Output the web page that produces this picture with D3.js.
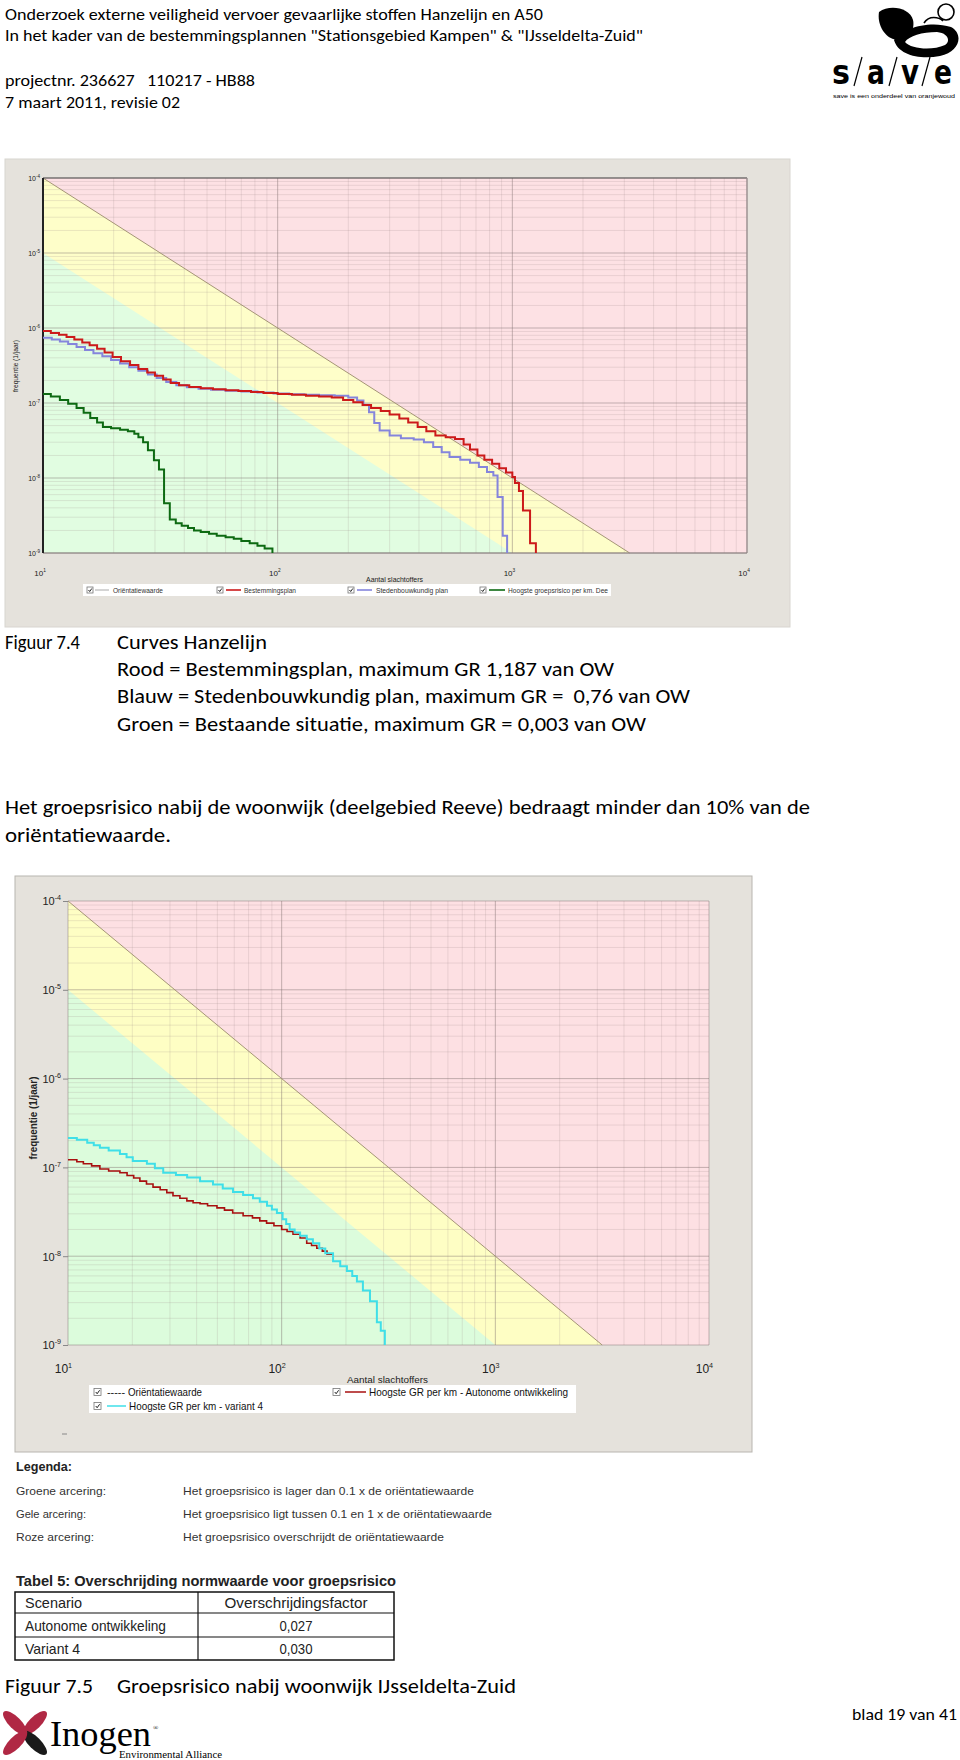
<!DOCTYPE html>
<html><head><meta charset="utf-8">
<script src="https://cdn.jsdelivr.net/npm/d3@7"></script>
<style>body{margin:0;background:#fff;} svg{display:block;} text{white-space:pre;}</style>
</head><body><svg id="page" width="960" height="1760"></svg>
<script>
// ---------------- DATA ----------------
const xDecades = [10, 100, 1000, 10000];
const xTickExp = ["1", "2", "3", "4"];
const yDecades = [1e-4, 1e-5, 1e-6, 1e-7, 1e-8, 1e-9];
const yTickExp = ["-4", "-5", "-6", "-7", "-8", "-9"];
const owLine = [[10, 1e-4], [3162.3, 1e-9]];     // oriëntatiewaarde
const owTenth = [[10, 1e-5], [1000, 1e-9]];      // 0.1 x oriëntatiewaarde

// Figuur 7.4 – Bestemmingsplan (rood)
const c1RedN = [10,10.8,11.7,12.6,13.6,14.7,15.8,17,18.3,19.8,21.5,23.5,25.5,27.8,30,32.5,35,38,42,47,53,60,68,77,87,100,115,132,150,170,190,210,230,250,275,300,330,360,395,430,470,520,570,620,660,710,760,820,880,940,1000,1026,1067,1110,1190,1260];
const c1RedF = [9.1e-7,8.6e-7,8.1e-7,7.6e-7,7.0e-7,6.4e-7,5.9e-7,5.3e-7,4.7e-7,4.1e-7,3.6e-7,3.2e-7,2.85e-7,2.55e-7,2.3e-7,2.05e-7,1.85e-7,1.72e-7,1.64e-7,1.57e-7,1.52e-7,1.48e-7,1.44e-7,1.4e-7,1.36e-7,1.32e-7,1.29e-7,1.25e-7,1.22e-7,1.18e-7,1.1e-7,1.02e-7,9.4e-8,8.6e-8,7.8e-8,7.0e-8,6.2e-8,5.5e-8,4.8e-8,4.2e-8,3.7e-8,3.5e-8,3.3e-8,2.8e-8,2.4e-8,2.0e-8,1.75e-8,1.55e-8,1.35e-8,1.18e-8,1.03e-8,8.6e-9,6.7e-9,3.7e-9,1.35e-9,1e-9];
// Figuur 7.4 – Stedenbouwkundig plan (blauw)
const c1BlueN = [10,10.9,11.8,12.8,13.9,15.1,16.4,17.9,19.5,21.3,23.3,25.5,28,30.5,33.5,37,41,46,52,60,70,82,96,112,130,150,175,200,218,232,245,258,272,300,335,380,420,460,500,540,600,660,720,780,830,865,910,950];
const c1BlueF = [7.4e-7,7.0e-7,6.6e-7,6.1e-7,5.6e-7,5.1e-7,4.6e-7,4.2e-7,3.75e-7,3.35e-7,3.0e-7,2.7e-7,2.4e-7,2.15e-7,1.9e-7,1.72e-7,1.62e-7,1.55e-7,1.5e-7,1.46e-7,1.42e-7,1.38e-7,1.34e-7,1.31e-7,1.29e-7,1.27e-7,1.25e-7,1.18e-7,1.08e-7,9.5e-8,7.5e-8,5.4e-8,4.3e-8,3.7e-8,3.4e-8,3.25e-8,3.0e-8,2.6e-8,2.2e-8,1.9e-8,1.75e-8,1.6e-8,1.4e-8,1.2e-8,1.08e-8,5.6e-9,1.7e-9,1e-9];
// Figuur 7.4 – Hoogste groepsrisico per km (groen)
const c1GreenN = [10,10.8,11.8,12.8,13.9,14.9,15.9,17,18,19.5,21.3,23,24.5,25.5,26.7,28,29.7,31.2,32.8,34.7,36.8,39,41.5,44,47,51,55,60,65,70,76,82,88,95];
const c1GreenF = [1.32e-7,1.22e-7,1.1e-7,9.8e-8,8.6e-8,7.4e-8,6.3e-8,5.5e-8,4.8e-8,4.6e-8,4.4e-8,4.2e-8,3.9e-8,3.5e-8,3.0e-8,2.35e-8,1.73e-8,1.3e-8,4.6e-9,2.8e-9,2.5e-9,2.3e-9,2.15e-9,2.0e-9,1.9e-9,1.8e-9,1.7e-9,1.62e-9,1.55e-9,1.45e-9,1.35e-9,1.25e-9,1.15e-9,1e-9];

// Figuur 7.5 – Autonome ontwikkeling (rood)
const c2RedN = [10,11,11.8,12.9,14.1,15.5,17.5,18.9,20.3,21.7,23.3,25,27,29,31,33.4,36,38.5,41.5,45,49.8,54,59,66,73,79,85,92,100,106,113,122,131,138,146,155,163,174];
const c2RedF = [1.22e-7,1.16e-7,1.1e-7,1.04e-7,9.6e-8,9.1e-8,8.7e-8,8.1e-8,7.6e-8,7.0e-8,6.5e-8,6.0e-8,5.6e-8,5.2e-8,4.8e-8,4.5e-8,4.2e-8,4.0e-8,3.9e-8,3.7e-8,3.5e-8,3.3e-8,3.06e-8,2.85e-8,2.7e-8,2.5e-8,2.36e-8,2.2e-8,2.0e-8,1.9e-8,1.77e-8,1.6e-8,1.4e-8,1.32e-8,1.23e-8,1.14e-8,1.05e-8,1.05e-8];
// Figuur 7.5 – variant 4 (cyaan)
const c2CyanN = [10,11,12.3,13.2,14.1,15.5,17.5,18.8,20.1,23.4,25.5,27.9,32,36.1,41.5,47.7,53,59.2,66,73.4,79,85.4,90,95,101,105,109,115,122,131,140,150,160,174,188,202,214,225,240,259,279,291,304];
const c2CyanF = [2.15e-7,2.05e-7,1.9e-7,1.78e-7,1.66e-7,1.55e-7,1.42e-7,1.3e-7,1.18e-7,1.1e-7,9.8e-8,8.7e-8,8.2e-8,7.7e-8,7.0e-8,6.4e-8,5.8e-8,5.3e-8,4.9e-8,4.5e-8,4.1e-8,3.7e-8,3.35e-8,3.06e-8,2.6e-8,2.3e-8,2.0e-8,1.85e-8,1.7e-8,1.55e-8,1.4e-8,1.22e-8,1.08e-8,8.8e-9,7.7e-9,6.8e-9,6.0e-9,5.2e-9,4.1e-9,3.1e-9,1.8e-9,1.45e-9,1e-9];

const legend1Labels = ["Oriëntatiewaarde", "Bestemmingsplan", "Stedenbouwkundig plan", "Hoogste groepsrisico per km. Dee"];
const legend2Labels = ["Oriëntatiewaarde", "Hoogste GR per km - Autonome ontwikkeling", "Hoogste GR per km - variant 4"];
const headerLines = ["Onderzoek externe veiligheid vervoer gevaarlijke stoffen Hanzelijn en A50",
  "In het kader van de bestemmingsplannen \"Stationsgebied Kampen\" & \"IJsseldelta-Zuid\"",
  "projectnr. 236627   110217 - HB88", "7 maart 2011, revisie 02"];
const caption74 = ["Curves Hanzelijn", "Rood = Bestemmingsplan, maximum GR 1,187 van OW",
  "Blauw = Stedenbouwkundig plan, maximum GR =  0,76 van OW", "Groen = Bestaande situatie, maximum GR = 0,003 van OW"];
const paragraph = ["Het groepsrisico nabij de woonwijk (deelgebied Reeve) bedraagt minder dan 10% van de", "oriëntatiewaarde."];
const legendaRows = [["Groene arcering:", "Het groepsrisico is lager dan 0.1 x de oriëntatiewaarde"],
  ["Gele arcering:", "Het groepsrisico ligt tussen 0.1 en 1 x de oriëntatiewaarde"],
  ["Roze arcering:", "Het groepsrisico overschrijdt de oriëntatiewaarde"]];
const tableHeader = ["Scenario", "Overschrijdingsfactor"];
const tableRows = [["Autonome ontwikkeling", "0,027"], ["Variant 4", "0,030"]];

// ---------------- DRAWING ----------------
const svg = d3.select("#page");
const CAL = "Carlito, Lato, 'Open Sans', sans-serif";
const ARI = "'Liberation Sans', Arial, sans-serif";

function txt(parent, x, y, s, o = {}) {
  const t = parent.append("text").attr("x", x).attr("y", y)
    .attr("font-family", o.ff || CAL).attr("font-size", o.fs || 16)
    .attr("fill", o.fill || "#000").attr("text-anchor", o.anchor || "start")
    .attr("font-weight", o.fw || "normal").attr("xml:space", "preserve").text(s);
  if (o.len) t.attr("textLength", o.len).attr("lengthAdjust", "spacingAndGlyphs");
  if (o.rot) t.attr("transform", `rotate(${o.rot},${x},${y})`);
  return t;
}

svg.append("rect").attr("width", 960).attr("height", 1760).attr("fill", "#fff");

// header
txt(svg, 5, 20, headerLines[0], {fs: 16, len: 538});
txt(svg, 5, 41, headerLines[1], {fs: 16, len: 638});
txt(svg, 5, 86, headerLines[2], {fs: 16, len: 250});
txt(svg, 5, 108, headerLines[3], {fs: 16, len: 175});

// s/a/v/e logo
(function () {
  const g = svg.append("g");
  g.append("circle").attr("cx", 946).attr("cy", 12).attr("r", 8).attr("fill", "none").attr("stroke", "#000").attr("stroke-width", 1.6);
  g.append("path").attr("d", "M879,12 C890,4 910,8 913,20 C916,33 904,42 893,39 C884,36 877,24 879,12 Z").attr("fill", "#000");
  g.append("path").attr("d", "M894,40 C902,28 930,20 951,27 C964,34 960,52 940,56 C920,60 898,55 894,40 Z M905,42 C911,49 932,51 945,45 C951,41 948,33 937,32 C922,32 909,36 905,42 Z").attr("fill", "#000").attr("fill-rule", "evenodd");
  g.append("path").attr("d", "M924,23 C929,15 939,17 943,21").attr("fill", "none").attr("stroke", "#000").attr("stroke-width", 1.6);
  const letters = [["s", 841], ["a", 876], ["v", 910], ["e", 943]];
  letters.forEach(l => txt(g, l[1] - 9, 84, l[0], {ff: "'DejaVu Sans', sans-serif", fs: 34, fw: "bold", len: 18}));
  [858, 893, 926].forEach(x => g.append("line").attr("x1", x - 4).attr("y1", 86).attr("x2", x + 4).attr("y2", 57).attr("stroke", "#000").attr("stroke-width", 1.2));
  txt(g, 833, 98, "save is een onderdeel van oranjewoud", {ff: ARI, fs: 6, len: 122});
})();

function checkbox(g, x, y, s) {
  g.append("rect").attr("x", x).attr("y", y).attr("width", s).attr("height", s).attr("fill", "#fff").attr("stroke", "#777").attr("stroke-width", 0.8);
  g.append("path").attr("d", `M${x + s * 0.25},${y + s * 0.5} L${x + s * 0.45},${y + s * 0.75} L${x + s * 0.8},${y + s * 0.25}`)
    .attr("fill", "none").attr("stroke", "#222").attr("stroke-width", 1);
}

function drawChart(cfg) {
  const g = svg.append("g");
  g.append("rect").attr("x", cfg.px0).attr("y", cfg.py0).attr("width", cfg.px1 - cfg.px0).attr("height", cfg.py1 - cfg.py0)
    .attr("fill", "#e5e2dc").attr("stroke", cfg.panelStroke).attr("stroke-width", 1);
  const x = d3.scaleLog().domain([10, 10000]).range([cfg.x0, cfg.x1]);
  const y = d3.scaleLog().domain([1e-9, 1e-4]).range([cfg.y1, cfg.y0]);
  const pt = p => [x(p[0]), y(p[1])].join(",");
  g.append("rect").attr("x", cfg.x0).attr("y", cfg.y0).attr("width", cfg.x1 - cfg.x0).attr("height", cfg.y1 - cfg.y0).attr("fill", cfg.pink);
  g.append("polygon").attr("points", [owLine[0], owLine[1], [10, 1e-9]].map(pt).join(" ")).attr("fill", cfg.yellow);
  g.append("polygon").attr("points", [owTenth[0], owTenth[1], [10, 1e-9]].map(pt).join(" ")).attr("fill", cfg.green);
  const isMajor = v => Math.abs(Math.log10(v) - Math.round(Math.log10(v))) < 1e-6;
  // grid
  x.ticks().forEach(v => {
    const mj = isMajor(v);
    g.append("line").attr("x1", x(v)).attr("x2", x(v)).attr("y1", cfg.y0).attr("y2", cfg.y1)
      .attr("stroke", mj ? "#7a6a6a" : "#9a8888").attr("stroke-opacity", mj ? 0.45 : 0.2).attr("stroke-width", 1);
  });
  y.ticks().forEach(v => {
    const mj = isMajor(v);
    g.append("line").attr("x1", cfg.x0).attr("x2", cfg.x1).attr("y1", y(v)).attr("y2", y(v))
      .attr("stroke", mj ? "#7a6a6a" : "#9a8888").attr("stroke-opacity", mj ? 0.45 : 0.2).attr("stroke-width", 1);
  });
  // orientation line
  g.append("path").attr("d", d3.line().x(d => x(d[0])).y(d => y(d[1]))(owLine)).attr("stroke", "#a59577").attr("stroke-width", 1).attr("fill", "none");
  // borders
  if (cfg.borders) {
    g.append("line").attr("x1", cfg.x0).attr("x2", cfg.x1).attr("y1", cfg.y0).attr("y2", cfg.y0).attr("stroke", "#555").attr("stroke-width", 1.2);
    g.append("line").attr("x1", cfg.x1).attr("x2", cfg.x1).attr("y1", cfg.y0).attr("y2", cfg.y1).attr("stroke", "#9a9090").attr("stroke-width", 1.2);
    g.append("line").attr("x1", cfg.x0).attr("x2", cfg.x1).attr("y1", cfg.y1).attr("y2", cfg.y1).attr("stroke", "#8a8080").attr("stroke-width", 1.2);
    g.append("line").attr("x1", cfg.x0).attr("x2", cfg.x0).attr("y1", cfg.y0).attr("y2", cfg.y1).attr("stroke", "#222").attr("stroke-width", 2);
  }
  // curves
  const line = d3.line().x(d => x(d[0])).y(d => y(d[1])).curve(d3.curveStepAfter);
  cfg.series.forEach(s => {
    const data = s.n.map((n, i) => [n, s.f[i]]);
    g.append("path").attr("d", line(data)).attr("fill", "none").attr("stroke", s.color).attr("stroke-width", s.w);
  });
  // y axis labels
  const ya = g.append("g").attr("transform", `translate(${cfg.x0},0)`)
    .call(d3.axisLeft(y).tickValues(yDecades).tickSize(cfg.yTick).tickPadding(cfg.yPad).tickFormat(() => ""));
  ya.select(".domain").remove();
  ya.selectAll(".tick line").attr("stroke", "#888");
  ya.selectAll(".tick text").each(function (d, i) {
    const t = d3.select(this).attr("font-family", ARI).attr("font-size", cfg.yFs).attr("fill", "#222").attr("dy", "0.35em");
    t.append("tspan").text("10");
    t.append("tspan").attr("dy", -cfg.yFs * 0.45).attr("font-size", cfg.yFs * 0.65).text(yTickExp[i]);
  });
  // x axis labels
  const xa = g.append("g").attr("transform", `translate(0,${cfg.xLabY})`)
    .call(d3.axisBottom(x).tickValues(xDecades).tickSize(0).tickFormat(() => ""));
  xa.select(".domain").remove();
  xa.selectAll(".tick text").each(function (d, i) {
    const t = d3.select(this).attr("font-family", ARI).attr("font-size", cfg.xFs).attr("fill", "#222")
      .attr("text-anchor", "end").attr("x", cfg.xFs * 0.3).attr("y", 0).attr("dy", "0.35em");
    t.append("tspan").text("10");
    t.append("tspan").attr("dy", -cfg.xFs * 0.45).attr("font-size", cfg.xFs * 0.6).text(xTickExp[i]);
  });
  // titles
  txt(g, cfg.xt[0], cfg.xt[1], "Aantal slachtoffers", {ff: ARI, fs: cfg.xt[2], len: cfg.xt[3], fill: "#222"});
  txt(g, cfg.yt[0], cfg.yt[1], "frequentie (1/jaar)", {ff: ARI, fs: cfg.yt[2], len: cfg.yt[3], rot: -90, anchor: "middle", fill: "#222", fw: cfg.yt[4] || "normal"});
  return g;
}

// ---- Figuur 7.4 ----
const g1 = drawChart({
  px0: 5, py0: 159, px1: 790, py1: 627, panelStroke: "#d8d5d0",
  x0: 43, x1: 747, y0: 178, y1: 553,
  pink: "#fde1e4", yellow: "#fefec9", green: "#e1fde1", borders: true,
  yTick: 0, yPad: 3, yFs: 7, xLabY: 573, xFs: 8,
  xt: [366, 582, 7, 57], yt: [18, 366, 7, 52],
  series: [
    {n: c1GreenN, f: c1GreenF, color: "#0d6a12", w: 2},
    {n: c1BlueN, f: c1BlueF, color: "#8585dc", w: 2},
    {n: c1RedN, f: c1RedF, color: "#cc1a1a", w: 2}
  ]
});
// legend 7.4
(function () {
  const g = svg.append("g");
  g.append("rect").attr("x", 83).attr("y", 584).attr("width", 528).attr("height", 12).attr("fill", "#fff");
  const items = [[87, 95, 109, 113, "#aaa", 50], [217, 226, 241, 244, "#cc1a1a", 52], [348, 357, 372, 376, "#8585dc", 72], [480, 489, 505, 508, "#0d6a12", 100]];
  items.forEach((it, i) => {
    checkbox(g, it[0], 587, 6);
    g.append("line").attr("x1", it[1]).attr("x2", it[2]).attr("y1", 590).attr("y2", 590).attr("stroke", it[4]).attr("stroke-width", i === 0 ? 1 : 1.6);
    txt(g, it[3], 592.5, legend1Labels[i], {ff: ARI, fs: 7, len: it[5], fill: "#333"});
  });
})();

// captions 7.4
txt(svg, 5, 649, "Figuur 7.4", {fs: 20, len: 75});
txt(svg, 117, 649, caption74[0], {fs: 20, len: 150});
txt(svg, 117, 676, caption74[1], {fs: 20, len: 497});
txt(svg, 117, 703, caption74[2], {fs: 20, len: 573});
txt(svg, 117, 731, caption74[3], {fs: 20, len: 529});
txt(svg, 5, 814, paragraph[0], {fs: 20, len: 805});
txt(svg, 5, 842, paragraph[1], {fs: 20, len: 166});

// ---- Figuur 7.5 ----
const g2 = drawChart({
  px0: 15, py0: 876, px1: 752, py1: 1452, panelStroke: "#b8b5b0",
  x0: 68, x1: 709, y0: 901, y1: 1345,
  pink: "#fde0e3", yellow: "#fefec4", green: "#dcfcdc", borders: false,
  yTick: 5, yPad: 2, yFs: 11, xLabY: 1369, xFs: 12,
  xt: [347, 1383, 9.5, 81], yt: [37, 1118, 11, 83, "bold"],
  series: [
    {n: c2RedN, f: c2RedF, color: "#a81010", w: 1.6},
    {n: c2CyanN, f: c2CyanF, color: "#3fdfe8", w: 2}
  ]
});
// legend 7.5
(function () {
  const g = svg.append("g");
  g.append("rect").attr("x", 89).attr("y", 1385).attr("width", 487).attr("height", 28).attr("fill", "#fff");
  checkbox(g, 94, 1388.5, 7);
  txt(g, 107, 1395.5, "-----", {ff: ARI, fs: 10, len: 18, fill: "#222"});
  txt(g, 128, 1395.5, legend2Labels[0], {ff: ARI, fs: 10.5, len: 74, fill: "#111"});
  checkbox(g, 333, 1388.5, 7);
  g.append("line").attr("x1", 345).attr("x2", 366).attr("y1", 1392).attr("y2", 1392).attr("stroke", "#a81010").attr("stroke-width", 1.5);
  txt(g, 369, 1395.5, legend2Labels[1], {ff: ARI, fs: 10.5, len: 199, fill: "#111"});
  checkbox(g, 94, 1402.5, 7);
  g.append("line").attr("x1", 107).attr("x2", 126).attr("y1", 1406).attr("y2", 1406).attr("stroke", "#3fdfe8").attr("stroke-width", 1.5);
  txt(g, 129, 1409.5, legend2Labels[2], {ff: ARI, fs: 10.5, len: 134, fill: "#111"});
  g.append("line").attr("x1", 62).attr("x2", 67).attr("y1", 1434).attr("y2", 1434).attr("stroke", "#888");
})();

// Legenda
txt(svg, 16, 1471, "Legenda:", {ff: ARI, fs: 12.5, fw: "bold", len: 56, fill: "#222"});
legendaRows.forEach((r, i) => {
  const yy = [1495, 1518, 1541][i];
  txt(svg, 16, yy, r[0], {ff: ARI, fs: 11, fill: "#333", len: [90, 70, 78][i]});
  txt(svg, 183, yy, r[1], {ff: ARI, fs: 11, fill: "#333", len: [291, 309, 261][i]});
});

// Tabel 5
txt(svg, 16, 1586, "Tabel 5: Overschrijding normwaarde voor groepsrisico", {ff: ARI, fs: 14.5, fw: "bold", len: 380, fill: "#222"});
(function () {
  const g = svg.append("g");
  const tx0 = 15, tx1 = 394, tsplit = 198, ys = [1592, 1613, 1637, 1660];
  g.append("rect").attr("x", tx0).attr("y", ys[0]).attr("width", tx1 - tx0).attr("height", ys[3] - ys[0]).attr("fill", "none").attr("stroke", "#111").attr("stroke-width", 1.5);
  g.append("line").attr("x1", tsplit).attr("x2", tsplit).attr("y1", ys[0]).attr("y2", ys[3]).attr("stroke", "#111").attr("stroke-width", 1.2);
  [ys[1], ys[2]].forEach(yy => g.append("line").attr("x1", tx0).attr("x2", tx1).attr("y1", yy).attr("y2", yy).attr("stroke", "#111").attr("stroke-width", 1.2));
  const mid = (tsplit + tx1) / 2;
  txt(g, 25, 1608, tableHeader[0], {ff: ARI, fs: 15, fill: "#222", len: 57});
  txt(g, mid, 1608, tableHeader[1], {ff: ARI, fs: 15, fill: "#222", anchor: "middle", len: 143});
  tableRows.forEach((r, i) => {
    const yy = [1631, 1654][i];
    txt(g, 25, yy, r[0], {ff: ARI, fs: 15, fill: "#222", len: [141, 55][i]});
    txt(g, mid, yy, r[1], {ff: ARI, fs: 15, fill: "#222", anchor: "middle", len: 33});
  });
})();

txt(svg, 5, 1693, "Figuur 7.5", {fs: 20, len: 88});
txt(svg, 117, 1693, "Groepsrisico nabij woonwijk IJsseldelta-Zuid", {fs: 20, len: 399});

// Inogen logo
(function () {
  const g = svg.append("g");
  const cx = 25, cy = 1733;
  [[-45, "#b02844"], [45, "#1a1a1a"], [135, "#b02844"], [225, "#b02844"]].forEach(p => {
    g.append("ellipse").attr("cx", cx + 14).attr("cy", cy).attr("rx", 16).attr("ry", 6)
      .attr("fill", p[1]).attr("transform", `rotate(${p[0]},${cx},${cy})`);
  });
  txt(g, 50, 1746, "Inogen", {ff: "'Liberation Serif', 'DejaVu Serif', serif", fs: 36, len: 101});
  txt(g, 153, 1730, "®", {ff: "'Liberation Serif', serif", fs: 7});
  txt(g, 119, 1758, "Environmental Alliance", {ff: "'Liberation Serif', serif", fs: 9.5, len: 103});
})();

txt(svg, 852, 1720, "blad 19 van 41", {fs: 16, len: 105});
</script>
</body></html>
